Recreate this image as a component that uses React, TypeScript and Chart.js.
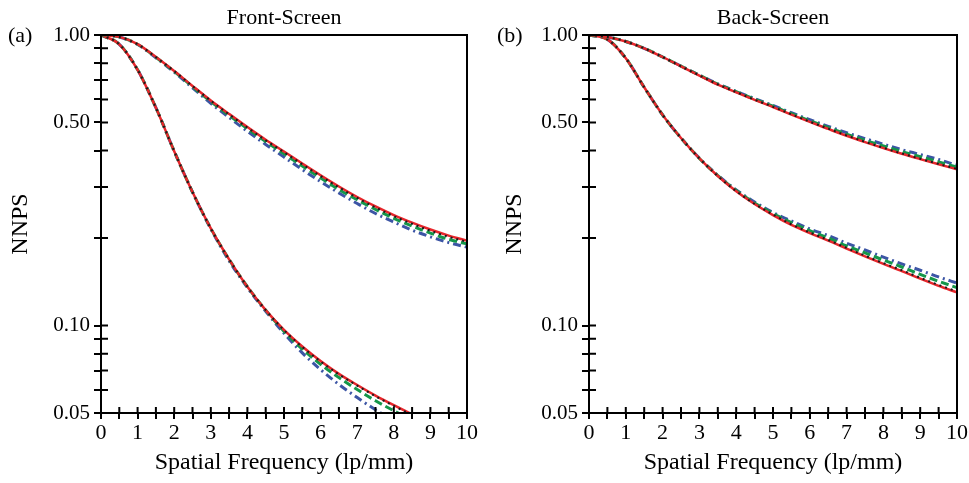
import React, { useEffect, useRef } from "react";
import { Chart, registerables } from "chart.js";

Chart.register(...registerables);

// ---------- data ----------
const frequencies = [0, 0.5, 1, 1.5, 2, 2.5, 3, 3.5, 4, 4.5, 5, 5.5, 6, 6.5, 7, 7.5, 8, 8.5, 9, 9.5, 10];
const xTickLabels = ["0", "1", "2", "3", "4", "5", "6", "7", "8", "9", "10"];
const yTickValues = [0.05, 0.06, 0.07, 0.08, 0.09, 0.1, 0.2, 0.3, 0.4, 0.5, 0.6, 0.7, 0.8, 0.9, 1.0];
const yLabeledTicks = [0.05, 0.1, 0.5, 1.0];

// Front-Screen, upper group
const frontUpperRed = [1.0, 0.985, 0.93, 0.84, 0.752, 0.668, 0.595, 0.535, 0.482, 0.436, 0.397, 0.361, 0.329, 0.301, 0.277, 0.257, 0.24, 0.226, 0.214, 0.204, 0.196];
const frontUpperBlack = [1.0, 0.985, 0.929, 0.839, 0.751, 0.667, 0.594, 0.533, 0.48, 0.434, 0.395, 0.359, 0.327, 0.299, 0.275, 0.255, 0.238, 0.224, 0.212, 0.202, 0.194];
const frontUpperGreen = [1.0, 0.985, 0.929, 0.838, 0.749, 0.664, 0.59, 0.529, 0.476, 0.43, 0.39, 0.354, 0.322, 0.294, 0.271, 0.251, 0.234, 0.22, 0.208, 0.198, 0.191];
const frontUpperBlue = [1.0, 0.984, 0.927, 0.835, 0.745, 0.658, 0.582, 0.52, 0.466, 0.42, 0.38, 0.344, 0.313, 0.286, 0.263, 0.243, 0.227, 0.213, 0.202, 0.193, 0.186];
// Front-Screen, lower group
const frontLowerRed = [1.0, 0.929, 0.759, 0.562, 0.398, 0.288, 0.216, 0.169, 0.136, 0.113, 0.0966, 0.0847, 0.0755, 0.0682, 0.0624, 0.0574, 0.0532, 0.0495, 0.0463, 0.0436, 0.041];
const frontLowerBlack = [1.0, 0.929, 0.759, 0.562, 0.398, 0.288, 0.216, 0.169, 0.136, 0.113, 0.0964, 0.0844, 0.0752, 0.0679, 0.0621, 0.0571, 0.0529, 0.0492, 0.046, 0.0433, 0.0407];
const frontLowerGreen = [1.0, 0.929, 0.759, 0.562, 0.398, 0.288, 0.216, 0.169, 0.136, 0.113, 0.0955, 0.083, 0.0735, 0.0662, 0.0602, 0.0551, 0.0509, 0.0472, 0.044, 0.041, 0.0385];
const frontLowerBlue = [1.0, 0.929, 0.759, 0.562, 0.398, 0.288, 0.215, 0.167, 0.135, 0.112, 0.094, 0.0805, 0.0705, 0.0627, 0.0565, 0.0513, 0.047, 0.0435, 0.0405, 0.038, 0.0355];

// Back-Screen, upper group
const backUpperRed = [1.0, 0.985, 0.95, 0.9, 0.84, 0.78, 0.725, 0.675, 0.635, 0.598, 0.565, 0.532, 0.502, 0.475, 0.45, 0.428, 0.408, 0.39, 0.374, 0.359, 0.345];
const backUpperBlack = [1.0, 0.985, 0.95, 0.9, 0.84, 0.78, 0.726, 0.676, 0.636, 0.599, 0.566, 0.533, 0.503, 0.476, 0.451, 0.429, 0.409, 0.391, 0.375, 0.36, 0.346];
const backUpperGreen = [1.0, 0.985, 0.95, 0.9, 0.84, 0.781, 0.727, 0.677, 0.638, 0.601, 0.569, 0.536, 0.507, 0.48, 0.456, 0.434, 0.415, 0.397, 0.381, 0.366, 0.351];
const backUpperBlue = [1.0, 0.985, 0.95, 0.9, 0.84, 0.782, 0.728, 0.679, 0.64, 0.604, 0.572, 0.54, 0.511, 0.485, 0.461, 0.44, 0.421, 0.403, 0.388, 0.373, 0.356];
// Back-Screen, lower group
const backLowerRed = [1.0, 0.966, 0.832, 0.661, 0.531, 0.442, 0.376, 0.327, 0.29, 0.262, 0.24, 0.222, 0.208, 0.196, 0.184, 0.173, 0.163, 0.154, 0.145, 0.137, 0.13];
const backLowerBlack = [1.0, 0.966, 0.832, 0.661, 0.531, 0.442, 0.376, 0.327, 0.29, 0.262, 0.241, 0.223, 0.209, 0.197, 0.185, 0.174, 0.164, 0.155, 0.146, 0.138, 0.131];
const backLowerGreen = [1.0, 0.966, 0.832, 0.661, 0.531, 0.442, 0.376, 0.328, 0.292, 0.264, 0.243, 0.226, 0.212, 0.2, 0.188, 0.178, 0.168, 0.159, 0.15, 0.142, 0.135];
const backLowerBlue = [1.0, 0.966, 0.832, 0.661, 0.531, 0.442, 0.377, 0.329, 0.293, 0.266, 0.245, 0.229, 0.215, 0.204, 0.192, 0.182, 0.172, 0.163, 0.155, 0.147, 0.14];

// ---------- styles ----------
const FONT = '"Liberation Serif", "Times New Roman", serif';
const RED = "#e8262b";
const BLACK = "#1a1a1a";
const GREEN = "#14964a";
const BLUE = "#3c55a5";

type PanelCfg = {
  title: string;
  letter: string;
  letterX: number;
  axisWidth: number;
  rightPad: number;
  yTitlePad: number;
  groups: { red: number[]; black: number[]; green: number[]; blue: number[] }[];
};

const toPoints = (vals: number[]) => frequencies.map((f, i) => ({ x: f, y: vals[i] }));

function buildDatasets(groups: PanelCfg["groups"]) {
  const ds: any[] = [];
  const base = { pointRadius: 0, fill: false, cubicInterpolationMode: "monotone", clip: 1 };
  groups.forEach((g) => {
    ds.push({ ...base, data: toPoints(g.black), borderColor: BLACK, borderWidth: 2, borderDash: [2, 4] });
    ds.push({ ...base, data: toPoints(g.red), borderColor: RED, borderWidth: 2.5 });
    ds.push({ ...base, data: toPoints(g.green), borderColor: GREEN, borderWidth: 3, borderDash: [8, 4] });
    ds.push({ ...base, data: toPoints(g.blue), borderColor: BLUE, borderWidth: 3, borderDash: [8, 4, 2, 4] });
  });
  return ds;
}

function decorPlugin(cfg: PanelCfg) {
  return {
    id: "decor",
    afterDraw(chart: any) {
      const { ctx, chartArea: a, scales } = chart;
      ctx.save();
      ctx.strokeStyle = "#000";
      ctx.lineWidth = 2;
      ctx.strokeRect(a.left, a.top, a.right - a.left, a.bottom - a.top);
      ctx.beginPath();
      for (const t of scales.y.ticks) {
        const py = scales.y.getPixelForValue(t.value);
        ctx.moveTo(a.left, py);
        ctx.lineTo(a.left + 7, py);
      }
      for (const t of scales.x.ticks) {
        const px = scales.x.getPixelForValue(t.value);
        ctx.moveTo(px, a.bottom);
        ctx.lineTo(px, a.bottom - 6);
      }
      ctx.stroke();
      ctx.fillStyle = "#000";
      ctx.font = `22px ${FONT}`;
      ctx.textAlign = "center";
      ctx.textBaseline = "middle";
      ctx.fillText(cfg.title, (a.left + a.right) / 2, 18);
      ctx.textAlign = "left";
      ctx.fillText(cfg.letter, cfg.letterX, 36);
      ctx.restore();
    },
  };
}

function Panel({ cfg, width }: { cfg: PanelCfg; width: number }) {
  const ref = useRef<HTMLCanvasElement>(null);
  useEffect(() => {
    if (!ref.current) return;
    const chart = new Chart(ref.current, {
      type: "line",
      data: { datasets: buildDatasets(cfg.groups) },
      options: {
        animation: false,
        responsive: false,
        layout: { padding: { top: 35, right: cfg.rightPad, bottom: 0, left: 0 } },
        plugins: { legend: { display: false }, title: { display: false }, tooltip: { enabled: false } },
        scales: {
          x: {
            type: "linear",
            min: 0,
            max: 10,
            afterFit: (s: any) => {
              s.height = 70;
            },
            afterBuildTicks: (s: any) => {
              s.ticks = frequencies.map((v) => ({ value: v }));
            },
            ticks: {
              autoSkip: false,
              maxRotation: 0,
              padding: 1,
              color: "#000",
              font: { family: FONT, size: 22 },
              callback: (v: any) => {
                const n = Number(v);
                return Number.isInteger(n) ? xTickLabels[n] : "";
              },
            },
            grid: { display: true, drawOnChartArea: false, drawTicks: true, tickLength: 6, color: "#000", lineWidth: 2 },
            border: { display: true, color: "#000", width: 2 },
            title: {
              display: true,
              text: "Spatial Frequency (lp/mm)",
              color: "#000",
              font: { family: FONT, size: 24 },
              padding: { top: 0, bottom: 6 },
            },
          },
          y: {
            type: "logarithmic",
            min: 0.05,
            max: 1.0,
            afterFit: (s: any) => {
              s.width = cfg.axisWidth;
            },
            afterBuildTicks: (s: any) => {
              s.ticks = yTickValues.map((v) => ({ value: v }));
            },
            ticks: {
              autoSkip: false,
              padding: 4,
              color: "#000",
              font: { family: FONT, size: 21 },
              callback: (v: any) => {
                const n = Number(v);
                return yLabeledTicks.some((m) => Math.abs(m - n) < 1e-9) ? n.toFixed(2) : "";
              },
            },
            grid: { display: true, drawOnChartArea: false, drawTicks: true, tickLength: 7, color: "#000", lineWidth: 2 },
            border: { display: true, color: "#000", width: 2 },
            title: {
              display: true,
              text: "NNPS",
              color: "#000",
              font: { family: FONT, size: 24 },
              padding: { top: cfg.yTitlePad, bottom: 0 },
            },
          },
        },
      } as any,
      plugins: [decorPlugin(cfg)],
    });
    return () => chart.destroy();
  }, [cfg]);
  return <canvas ref={ref} width={width} height={483} style={{ display: "block", width, height: 483 }} />;
}

const frontCfg: PanelCfg = {
  title: "Front-Screen",
  letter: "(a)",
  letterX: 8,
  axisWidth: 101,
  rightPad: 17,
  yTitlePad: 6,
  groups: [
    { red: frontUpperRed, black: frontUpperBlack, green: frontUpperGreen, blue: frontUpperBlue },
    { red: frontLowerRed, black: frontLowerBlack, green: frontLowerGreen, blue: frontLowerBlue },
  ],
};

const backCfg: PanelCfg = {
  title: "Back-Screen",
  letter: "(b)",
  letterX: 13,
  axisWidth: 105,
  rightPad: 12,
  yTitlePad: 16,
  groups: [
    { red: backUpperRed, black: backUpperBlack, green: backUpperGreen, blue: backUpperBlue },
    { red: backLowerRed, black: backLowerBlack, green: backLowerGreen, blue: backLowerBlue },
  ],
};

export default function App() {
  return (
    <div
      style={{
        position: "absolute",
        left: 0,
        top: 0,
        width: 969,
        height: 483,
        background: "#fff",
        display: "flex",
        flexDirection: "row",
      }}
    >
      <Panel cfg={frontCfg} width={484} />
      <Panel cfg={backCfg} width={485} />
    </div>
  );
}
